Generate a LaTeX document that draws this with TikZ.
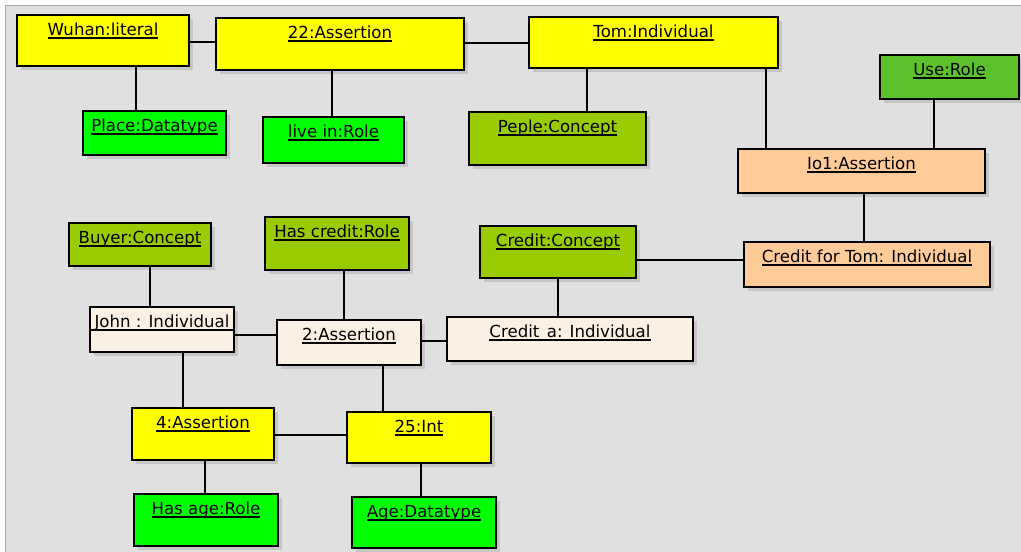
\documentclass[tikz,border=0pt]{standalone}
\usepackage{fontspec}
\setmainfont{DejaVu Sans}
\usetikzlibrary{fit,shadows}

\definecolor{canvas}{HTML}{E0E0E0}
\definecolor{frameline}{HTML}{A8A8A8}
\definecolor{objyellow}{HTML}{FFFF00}
\definecolor{objgreen}{HTML}{00FF00}
\definecolor{objolive}{HTML}{99CC00}
\definecolor{objrole}{HTML}{5CC22C}
\definecolor{objpeach}{HTML}{FFCC99}
\definecolor{objcream}{HTML}{FAF0E3}
\definecolor{shadowgray}{HTML}{C6C6C6}

% underlined object name with a fixed rule position
\newcommand\ulbl[1]{\setbox0=\hbox{#1}\rlap{\copy0}\rule[-2.8pt]{\wd0}{1.1pt}}

\tikzset{
  objbox/.style={draw=black, line width=1.6pt, inner sep=0pt,
    drop shadow={shadow xshift=4pt, shadow yshift=-4pt, fill=shadowgray, opacity=1}},
  objname/.style={anchor=base, inner sep=0pt, font=\fontsize{16.6}{19}\selectfont},
  link/.style={draw=black, line width=1.4pt},
}

% \obj{name}{x1}{y1}{x2}{y2}{colour}{label}
\newcommand\obj[7]{%
  \node[objbox, fill=#6, fit={(#2,#3) (#4,#5)}] (#1) {};
  \node[objname] (#1-t) at ([yshift=-21.5pt]#1.north) {\ulbl{#7}};
}

\begin{document}
\begin{tikzpicture}[x=1pt,y=-1pt]
  \useasboundingbox (0,0) rectangle (1021,552);
  \fill[white] (0,0) rectangle (1021,552);
  \fill[canvas] (5,5) rectangle (1021,552);
  \draw[frameline, line width=1pt] (5.5,552) -- (5.5,5.5) -- (1021,5.5);

  % objects
  \obj{wuhan}{17}{15}{189}{66}{objyellow}{Wuhan:literal}
  \obj{a22}{216}{18}{464}{70}{objyellow}{22:Assertion}
  \obj{tom}{529}{17}{778}{68}{objyellow}{Tom:Individual}
  \obj{use}{880}{55}{1019}{99}{objrole}{Use:Role}
  \obj{place}{83}{111}{226}{155}{objgreen}{Place:Datatype}
  \obj{livein}{263}{117}{404}{163}{objgreen}{live in:Role}
  \obj{peple}{469}{112}{646}{165}{objolive}{Peple:Concept}
  \obj{io1}{738}{149}{985}{193}{objpeach}{Io1:Assertion}
  \obj{buyer}{69}{223}{211}{266}{objolive}{Buyer:Concept}
  \obj{hascredit}{265}{217}{409}{270}{objolive}{Has credit:Role}
  \obj{creditc}{480}{226}{636}{278}{objolive}{Credit:Concept}
  \obj{cft}{744}{242}{990}{287}{objpeach}{Credit for Tom: Individual}
  \obj{john}{90}{307}{234}{352}{objcream}{John : Individual}
  \obj{a2}{277}{320}{421}{365}{objcream}{2:Assertion}
  \obj{credita}{447}{317}{693}{361}{objcream}{Credit\hspace{0.45em}a: Individual}
  \obj{a4}{132}{408}{274}{460}{objyellow}{4:Assertion}
  \obj{int25}{347}{412}{491}{463}{objyellow}{25:Int}
  \obj{hasage}{134}{494}{278}{546}{objgreen}{Has age:Role}
  \obj{age}{352}{497}{496}{548}{objgreen}{Age:Datatype}

  % compartment line of the John object
  \draw[line width=1.4pt] (john.west |- 0,330) -- (john.east |- 0,330);

  % links
  \path[link] (wuhan.east |- 0,42) -- (a22.west |- 0,42);
  \path[link] (a22.east |- 0,43) -- (tom.west |- 0,43);
  \path[link] (wuhan.south -| 136,0) -- (place.north -| 136,0);
  \path[link] (a22.south -| 332,0) -- (livein.north -| 332,0);
  \path[link] (tom.south -| 587,0) -- (peple.north -| 587,0);
  \path[link] (tom.south -| 766,0) -- (io1.north -| 766,0);
  \path[link] (use.south -| 934,0) -- (io1.north -| 934,0);
  \path[link] (io1.south -| 864,0) -- (cft.north -| 864,0);
  \path[link] (creditc.east |- 0,260) -- (cft.west |- 0,260);
  \path[link] (creditc.south -| 558,0) -- (credita.north -| 558,0);
  \path[link] (buyer.south -| 150,0) -- (john.north -| 150,0);
  \path[link] (hascredit.south -| 344,0) -- (a2.north -| 344,0);
  \path[link] (john.east |- 0,335) -- (a2.west |- 0,335);
  \path[link] (a2.east |- 0,341) -- (credita.west |- 0,341);
  \path[link] (john.south -| 183,0) -- (a4.north -| 183,0);
  \path[link] (a2.south -| 383,0) -- (int25.north -| 383,0);
  \path[link] (a4.east |- 0,435) -- (int25.west |- 0,435);
  \path[link] (a4.south -| 205,0) -- (hasage.north -| 205,0);
  \path[link] (int25.south -| 421,0) -- (age.north -| 421,0);
\end{tikzpicture}
\end{document}
